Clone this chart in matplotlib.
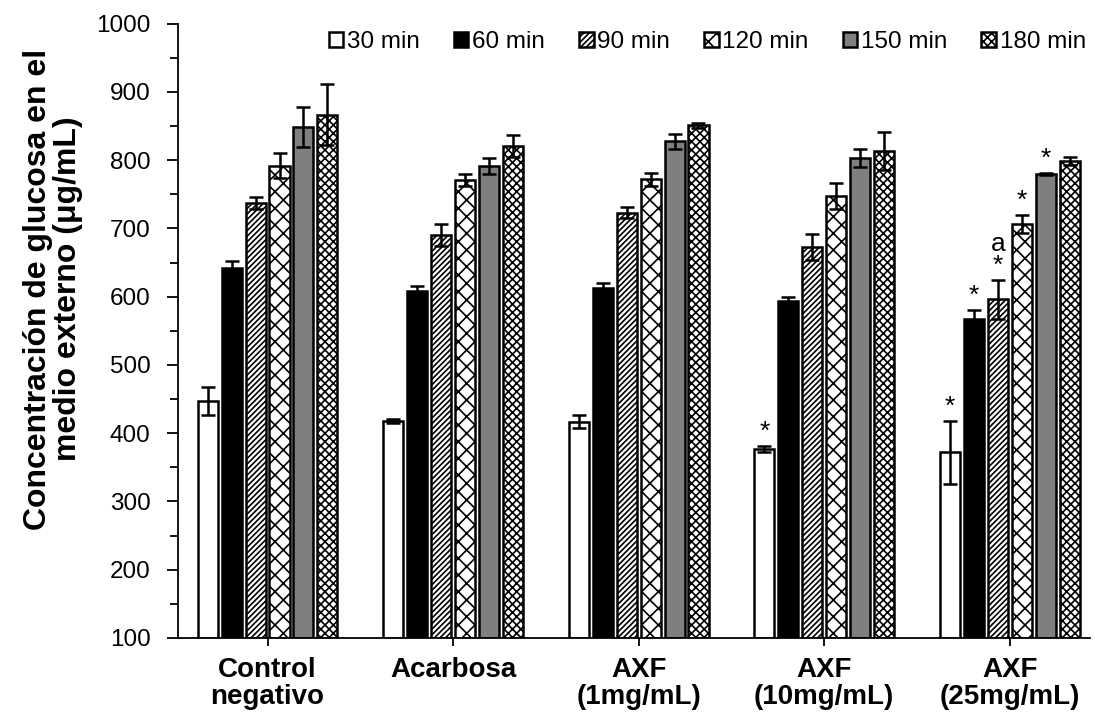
import matplotlib.pyplot as plt
import numpy as np
from matplotlib.ticker import MultipleLocator

plt.rcParams['font.family'] = ['Liberation Sans', 'DejaVu Sans']
plt.rcParams['hatch.linewidth'] = 1.2

groups = ['Control\nnegativo', 'Acarbosa', 'AXF\n(1mg/mL)', 'AXF\n(10mg/mL)', 'AXF\n(25mg/mL)']
times = ['30 min', '60 min', '90 min', '120 min', '150 min', '180 min']

# mean glucose per time point, one list per group
means = {
    '30 min':  [447, 418, 417, 377, 372],
    '60 min':  [642, 608, 613, 594, 568],
    '90 min':  [737, 690, 723, 673, 596],
    '120 min': [792, 771, 772, 747, 707],
    '150 min': [849, 792, 828, 803, 780],
    '180 min': [867, 821, 851, 814, 799],
}
errs = {
    '30 min':  [20, 3, 10, 4, 46],
    '60 min':  [10, 8, 7, 6, 13],
    '90 min':  [9, 16, 8, 19, 29],
    '120 min': [18, 9, 10, 19, 13],
    '150 min': [29, 12, 11, 13, 2],
    '180 min': [44, 16, 4, 28, 6],
}
# significance marks: (group index, time, text)
marks = [(3, '30 min', '*'), (4, '30 min', '*'), (4, '60 min', '*'),
         (4, '90 min', 'a\n*'), (4, '120 min', '*'), (4, '150 min', '*')]

styles = {
    '30 min':  dict(color='white', hatch=None),
    '60 min':  dict(color='black', hatch=None),
    '90 min':  dict(color='white', hatch='//////'),
    '120 min': dict(color='white', hatch='xx'),
    '150 min': dict(color='#7f7f7f', hatch=None),
    '180 min': dict(color='white', hatch='xxxx'),
}

fig = plt.figure(figsize=(10.95, 7.2), dpi=100)
ax = fig.add_axes([0.163, 0.114, 0.832, 0.853])

x = np.arange(len(groups))
pitch = 0.129
width = 0.108
for i, t in enumerate(times):
    pos = x + (i - 2.5) * pitch
    st = styles[t]
    ax.bar(pos, np.array(means[t]) - 100, width, bottom=100, color=st['color'],
           hatch=st['hatch'], edgecolor='black', linewidth=1.8, label=t, zorder=2)
    ax.errorbar(pos, means[t], yerr=errs[t], fmt='none', ecolor='black',
                elinewidth=1.8, capsize=5, capthick=1.8, zorder=3)

for g, t, txt in marks:
    i = times.index(t)
    xp = x[g] + (i - 2.5) * pitch
    top = means[t][g] + errs[t][g]
    ax.text(xp, top + 3, txt, ha='center', va='bottom', fontsize=19,
            linespacing=0.85)

ax.set_xlim(-0.48, 4.43)
ax.set_ylim(100, 1000)
ax.yaxis.set_major_locator(MultipleLocator(100))
ax.yaxis.set_minor_locator(MultipleLocator(50))
ax.set_xticks(x)
ax.set_xticklabels(groups, fontsize=20, fontweight='bold', linespacing=1.05)
ax.tick_params(axis='y', labelsize=17.5, direction='out', length=8, width=1.3, pad=12)
ax.tick_params(axis='y', which='minor', direction='out', length=6, width=1.3)
ax.tick_params(axis='x', direction='out', length=6, width=1.3, pad=8)
for s in ['top', 'right']:
    ax.spines[s].set_visible(False)
for s in ['left', 'bottom']:
    ax.spines[s].set_linewidth(1.3)

ax.set_ylabel('Concentración de glucosa en el\nmedio externo (μg/mL)',
              fontsize=23, fontweight='bold', linespacing=1.0)
ax.yaxis.set_label_coords(-0.105, 0.568)

ax.legend(ncol=6, loc='upper right', bbox_to_anchor=(1.02, 1.024), frameon=False,
          fontsize=17.5, handlelength=0.6, handleheight=0.6, handletextpad=0.15,
          columnspacing=1.4)

fig.savefig('out.png', dpi=100)
